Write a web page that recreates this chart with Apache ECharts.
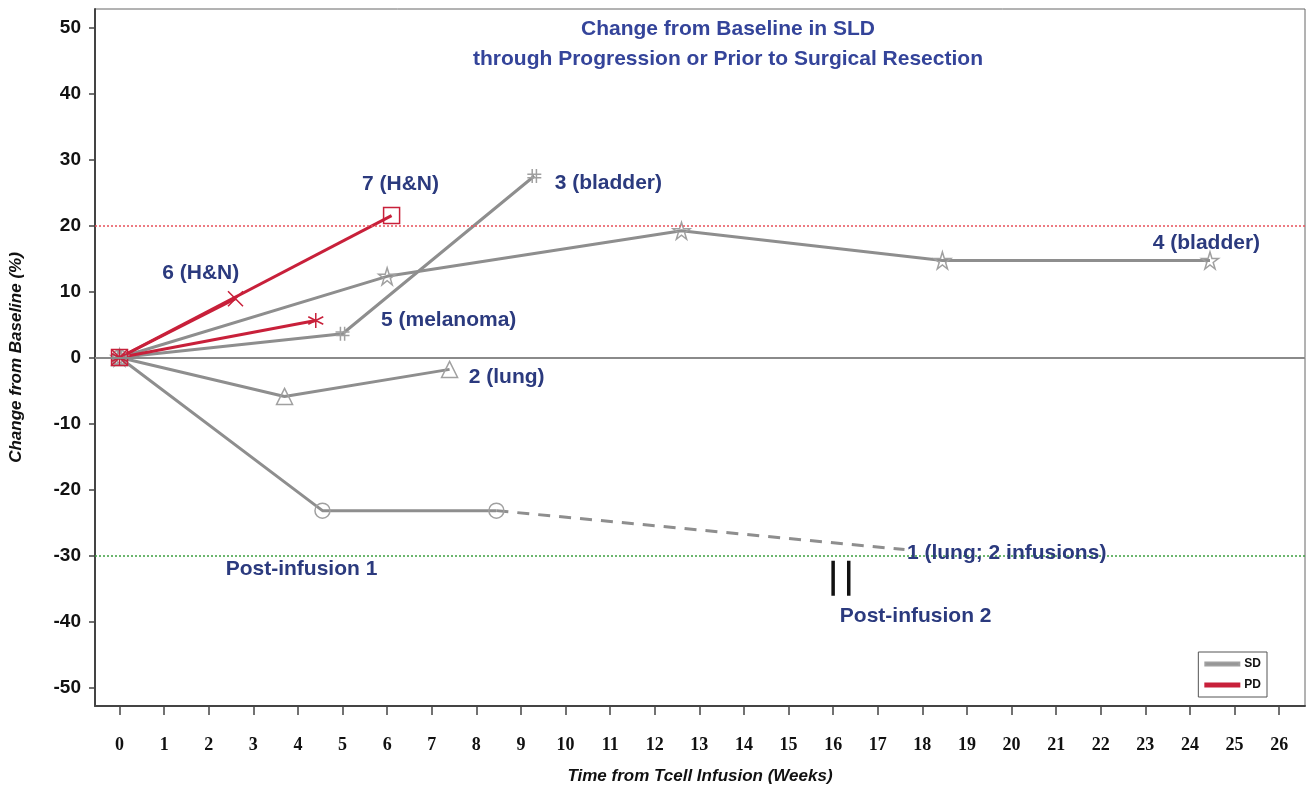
<!DOCTYPE html>
<html><head><meta charset="utf-8">
<script src="https://cdn.jsdelivr.net/npm/echarts@6/dist/echarts.min.js"></script>
<style>html,body{margin:0;padding:0;background:#fff}#c{width:1308px;height:793px}</style>
</head><body><div id="c"></div>
<script>
// ---- data ----
const weekTicks = [0,1,2,3,4,5,6,7,8,9,10,11,12,13,14,15,16,17,18,19,20,21,22,23,24,25,26];
const pctTicks = [-50,-40,-30,-20,-10,0,10,20,30,40,50];

const p1Weeks = [0, 4.55, 8.45];          const p1Change = [0, -23.2, -23.2];
const p1DashWeeks = [8.45, 17.6];         const p1DashChange = [-23.2, -29.1];
const p2Weeks = [0, 3.7, 7.4];            const p2Change = [0, -5.9, -1.8];
const p3Weeks = [0, 5.0, 9.3];            const p3Change = [0, 3.6, 27.5];
const p4Weeks = [0, 6.0, 12.6, 18.45, 24.45]; const p4Change = [0, 12.3, 19.2, 14.7, 14.7];
const p5Weeks = [0, 4.4];                 const p5Change = [0, 5.6];
const p6Weeks = [0, 2.6];                 const p6Change = [0, 8.9];
const p7Weeks = [0, 6.1];                 const p7Change = [0, 21.5];

const infusion2Weeks = [16.0, 16.35];
const infusion2Span = [-30.8, -36.1];

const thresholdPD = 20;
const thresholdPR = -30;

const annoText  = ['7 (H&N)','3 (bladder)','6 (H&N)','4 (bladder)','5 (melanoma)','2 (lung)','Post-infusion 1','1 (lung; 2 infusions)','Post-infusion 2'];
const annoWeek  = [6.3, 10.96, 1.82, 24.37, 7.38, 8.68, 4.08, 19.89, 17.85];
const annoValue = [26.2, 26.4, 12.7, 17.3, 5.6, -3.0, -32.1, -29.7, -39.2];

// ---- build ----
const GRAY = '#8e8e8e', RED = '#c8203a', MK = '#a0a0a0', NAVY = '#2b3a7e';
const zip = (a,b) => a.map((v,i)=>[v,b[i]]);
const STAR = 'path://M50,0 L61,35 L98,35 L68,57 L79,92 L50,70 L21,92 L32,57 L2,35 L39,35 Z';
const HASH = 'path://M35,0 L35,100 M65,0 L65,100 M0,38 L100,38 M0,62 L100,62';
const XMARK = 'path://M0,0 L100,100 M100,0 L0,100';
const AST = 'path://M50,0 L50,100 M7,25 L93,75 M93,25 L7,75';

function pt(name, w, c, color, symbol, size, extra) {
  return Object.assign({
    type:'line', name, data: zip(w,c), symbol, symbolSize: size,
    showAllSymbol:true, z:3,
    lineStyle:{color, width:3},
    itemStyle:{color:'rgba(255,255,255,0)', borderColor: color===RED? RED : MK, borderWidth:1.5},
    emphasis:{disabled:true}, animation:false
  }, extra||{});
}

const series = [
  pt('SD', p1Weeks, p1Change, GRAY, 'circle', 15),
  {type:'line', name:'SD', data: zip(p1DashWeeks,p1DashChange), symbol:'none', z:2,
   lineStyle:{color:GRAY, width:3, type:[12,9]}, animation:false},
  pt('SD', p2Weeks, p2Change, GRAY, 'triangle', 16),
  pt('SD', p3Weeks, p3Change, GRAY, HASH, 14),
  pt('SD', p4Weeks, p4Change, GRAY, STAR, 17),
  pt('PD', p5Weeks, p5Change, RED, AST, 15),
  pt('PD', p6Weeks, p6Change, RED, XMARK, 15),
  pt('PD', p7Weeks, p7Change, RED, 'rect', 16),
  {type:'line', data:[[infusion2Weeks[0],infusion2Span[0]],[infusion2Weeks[0],infusion2Span[1]]], symbol:'none',
   lineStyle:{color:'#111', width:3.5}, animation:false, z:4},
  {type:'line', data:[[infusion2Weeks[1],infusion2Span[0]],[infusion2Weeks[1],infusion2Span[1]]], symbol:'none',
   lineStyle:{color:'#111', width:3.5}, animation:false, z:4},
  {type:'line', data:[], symbol:'none', z:1, animation:false,
   markLine:{silent:true, symbol:'none', label:{show:false},
     data:[
       {yAxis:0, lineStyle:{color:'#8a8a8a', width:2, type:'solid'}},
       {yAxis:thresholdPD, lineStyle:{color:'#e8505a', width:1.5, type:[2,2]}},
       {yAxis:thresholdPR, lineStyle:{color:'#3da040', width:1.5, type:[2,2]}}
     ]}},
  {type:'scatter', data: annoWeek.map((w,i)=>({value:[w, annoValue[i]], name: annoText[i]})),
   symbolSize:0, z:6, animation:false, silent:true,
   itemStyle:{opacity:1},
   label:{show:true, position:'inside', formatter:p=>p.name, color:NAVY,
     fontFamily:'Liberation Sans, Arial, sans-serif', fontWeight:'bold', fontSize:21}}
];

const chart = echarts.init(document.getElementById('c'), null, {renderer:'canvas'});
chart.setOption({
  backgroundColor:'#fff',
  animation:false,
  title:{
    text:'Change from Baseline in SLD\nthrough Progression or Prior to Surgical Resection',
    left:723, top:9, textAlign:'center',
    textStyle:{color:'#34449a', fontFamily:'Liberation Sans, Arial, sans-serif', fontWeight:'bold', fontSize:21, lineHeight:30}
  },
  legend:{
    data:[{name:'SD', itemStyle:{color:GRAY}}, {name:'PD', itemStyle:{color:RED}}],
    orient:'vertical', right:41, bottom:96, icon:'rect', itemWidth:34, itemHeight:3, itemGap:9,
    borderColor:'#555', borderWidth:1, padding:[6,6,6,6],
    textStyle:{fontFamily:'Liberation Sans, Arial, sans-serif', fontWeight:'bold', fontSize:12, color:'#111'},
    selectedMode:false
  },
  grid:{left:95, right:3, top:9, bottom:87, show:true, borderColor:'#666', borderWidth:1, containLabel:false},
  xAxis:{
    type:'value', min:-0.55, max:26.58,
    name:'Time from Tcell Infusion (Weeks)', nameLocation:'middle', nameGap:62,
    nameTextStyle:{fontFamily:'Liberation Sans, Arial, sans-serif', fontStyle:'italic', fontWeight:'bold', fontSize:17, color:'#111'},
    axisLine:{show:true, onZero:false, lineStyle:{color:'#444', width:2}},
    axisTick:{show:true, length:9, customValues:weekTicks, lineStyle:{color:'#444', width:1.5}},
    axisLabel:{customValues:weekTicks, margin:30, fontFamily:'Liberation Serif, Times New Roman, serif', fontWeight:'bold', fontSize:18, color:'#111'},
    splitLine:{show:false}
  },
  yAxis:{
    type:'value', min:-52.8, max:52.8,
    name:'Change from Baseline (%)', nameLocation:'middle', nameGap:70, nameRotate:90,
    nameTextStyle:{fontFamily:'Liberation Sans, Arial, sans-serif', fontStyle:'italic', fontWeight:'bold', fontSize:17, color:'#111'},
    axisLine:{show:true, onZero:false, lineStyle:{color:'#444', width:2}},
    axisTick:{show:true, length:6, customValues:pctTicks, lineStyle:{color:'#444', width:1.5}},
    axisLabel:{customValues:pctTicks, margin:14, fontFamily:'Liberation Sans, Arial, sans-serif', fontWeight:'bold', fontSize:19, color:'#111'},
    splitLine:{show:false}
  },
  series
});
</script></body></html>
